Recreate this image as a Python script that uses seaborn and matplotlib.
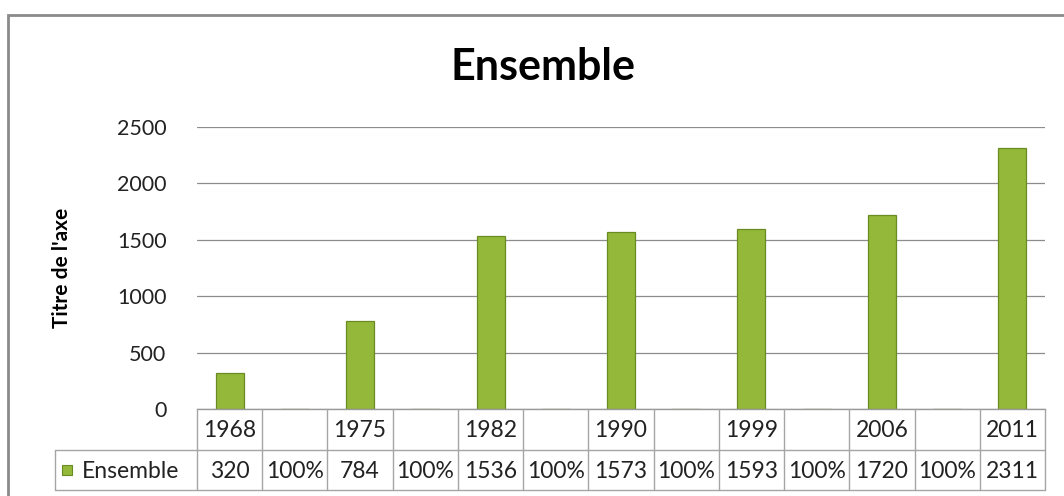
import matplotlib
matplotlib.use("Agg")
import matplotlib.pyplot as plt
import matplotlib.transforms as mtransforms
from matplotlib.patches import Rectangle
import seaborn as sns
import pandas as pd

# ---- data ----
categories = ["1968", "", "1975", "", "1982", "", "1990", "", "1999", "", "2006", "", "2011"]
values = [320, 1, 784, 1, 1536, 1, 1573, 1, 1593, 1, 1720, 1, 2311]
value_labels = ["320", "100%", "784", "100%", "1536", "100%", "1573", "100%",
                "1593", "100%", "1720", "100%", "2311"]
series_name = "Ensemble"
title = "Ensemble"
y_label = "Titre de l'axe"
y_ticks = [0, 500, 1000, 1500, 2000, 2500]

sns.set_theme(style="white")
plt.rcParams["font.family"] = ["Lato", "DejaVu Sans"]

W, H = 1064, 496
fig = plt.figure(figsize=(W / 100, H / 100), dpi=100)
fig.patch.set_facecolor("white")

def fx(px):
    return px / W

def fy(py):
    return 1 - py / H

left_px, right_px, top_px, bot_px = 197, 1045, 127, 409
ax = fig.add_axes([fx(left_px), fy(bot_px), fx(right_px - left_px), (bot_px - top_px) / H])

df = pd.DataFrame({"key": [str(i) for i in range(len(values))], "value": values})
bar_color = "#94b83a"
sns.barplot(data=df, x="key", y="value", color=bar_color, width=0.43,
            saturation=1, edgecolor="#6a8a22", linewidth=0.9, ax=ax)

ax.set_ylim(0, 2500)
ax.set_xlim(-0.5, len(values) - 0.5)
ax.set_yticks(y_ticks)
ax.set_yticklabels([str(t) for t in y_ticks], fontsize=15.5, color="#222222")
ax.tick_params(axis="y", length=0, pad=22)
ax.set_xticks([])
ax.set_xlabel("")
ax.set_ylabel("")
ax.grid(axis="y", color="#8c8c8c", linewidth=0.9)
ax.set_axisbelow(True)
for s in ["top", "right"]:
    ax.spines[s].set_visible(False)
ax.spines["left"].set_visible(False)
ax.spines["bottom"].set_color("#9a9a9a")
ax.spines["bottom"].set_linewidth(1.0)

# Title and axis label
fig.text(fx(543), fy(67), title, ha="center", va="center", fontsize=31,
         fontweight="bold", color="black")
fig.text(fx(62), fy(268), y_label, ha="center", va="center", rotation=90,
         fontsize=15, fontweight="bold", color="black")

# Data table below the axis
trans = mtransforms.blended_transform_factory(ax.transData, fig.transFigure)
line_col = "#a5a5a5"
row1_top, row1_bot, row2_bot = 409, 450, 490
tbl_left = 55
n = len(values)
fig.add_artist(plt.Line2D([fx(tbl_left), fx(right_px)], [fy(row1_bot), fy(row1_bot)],
                          color=line_col, lw=1.0))
fig.add_artist(plt.Line2D([fx(tbl_left), fx(right_px)], [fy(row2_bot), fy(row2_bot)],
                          color=line_col, lw=1.0))
fig.add_artist(plt.Line2D([fx(tbl_left), fx(tbl_left)], [fy(row1_bot), fy(row2_bot)],
                          color=line_col, lw=1.0))
for i in range(n + 1):
    xb = i - 0.5
    fig.add_artist(plt.Line2D([xb, xb], [fy(row1_top), fy(row2_bot)], color=line_col,
                              lw=1.0, transform=trans))
for i, (c, v) in enumerate(zip(categories, value_labels)):
    fig.text(i, fy((row1_top + row1_bot) / 2 + 1), c, transform=trans, ha="center",
             va="center", fontsize=16.5, color="#222222")
    fig.text(i, fy((row1_bot + row2_bot) / 2 + 1), v, transform=trans, ha="center",
             va="center", fontsize=16.5, color="#222222")
# legend key
fig.add_artist(Rectangle((fx(62), fy(475)), fx(10), 10 / H, transform=fig.transFigure,
                         facecolor=bar_color, edgecolor="#6a8a22", lw=0.8))
fig.text(fx(82), fy((row1_bot + row2_bot) / 2 + 1), series_name, ha="left", va="center",
         fontsize=16.5, color="#222222")

# outer chart frame
fig.add_artist(Rectangle((fx(8), fy(H + 20)), fx(W + 20), (H + 20 - 15) / H,
                         transform=fig.transFigure, facecolor="none",
                         edgecolor="#8a8a8a", lw=2.0))

fig.savefig("out.png", dpi=100, facecolor="white")
